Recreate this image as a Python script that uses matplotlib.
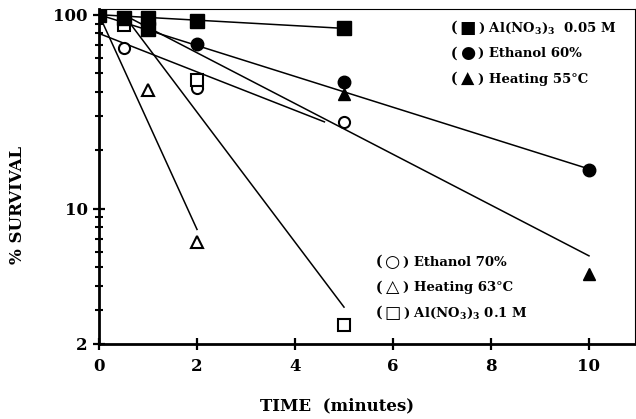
import matplotlib
matplotlib.use("Agg")
import matplotlib.pyplot as plt
from matplotlib.ticker import FixedLocator, FixedFormatter, NullFormatter

plt.rcParams['font.family'] = ['DejaVu Serif', 'DejaVu Sans']
plt.rcParams['font.weight'] = 'bold'
plt.rcParams['mathtext.fontset'] = 'dejavuserif'
plt.rcParams['mathtext.default'] = 'bf'

# ---- data (time in minutes, % survival) ----
al005_t = [0, 0.5, 1, 1, 2, 5]
al005_s = [100, 96, 96, 84, 93, 85]
eth60_t = [0, 1, 2, 5, 10]
eth60_s = [100, 88, 71, 45, 15.8]
heat55_t = [0, 1, 5, 10]
heat55_s = [100, 85, 39, 4.6]
eth70_t = [0.5, 2, 5]
eth70_s = [67, 42, 28]
heat63_t = [0, 1, 2]
heat63_s = [100, 41, 6.7]
al01_t = [0.5, 2, 5]
al01_s = [89, 46, 2.5]

# fitted lines (endpoints)
fit_al005_t, fit_al005_s = [0, 5], [100, 85]
fit_eth60_t, fit_eth60_s = [0, 10], [100, 16]
fit_heat55_t, fit_heat55_s = [0.5, 10], [100, 5.7]
fit_eth70_t, fit_eth70_s = [0, 4.6], [80, 28]
fit_heat63_t, fit_heat63_s = [0, 2], [100, 7.8]
fit_al01_t, fit_al01_s = [0.5, 5], [100, 3.1]

x_ticks = [0, 2, 4, 6, 8, 10]
y_major = [2, 10, 100]
y_major_labels = ['2', '10', '100']
y_minor = [3, 4, 5, 6, 7, 8, 9, 20, 30, 40, 50, 60, 70, 80, 90]

legend_upper_sym = ['■', '●', '▲']
legend_upper_lab = [r'Al(NO$_3$)$_3$  0.05 M', 'Ethanol 60%', 'Heating 55°C']
legend_lower_sym = ['○', '△', '□']
legend_lower_lab = ['Ethanol 70%', 'Heating 63°C', r'Al(NO$_3$)$_3$ 0.1 M']

W, H = 636, 419
fig = plt.figure(figsize=(6.36, 4.19), dpi=100)
ax = fig.add_axes([0.1557, 0.179, 0.8428, 0.7995])

lw = 1.1
for tx, sy in [(fit_al005_t, fit_al005_s), (fit_eth60_t, fit_eth60_s),
               (fit_heat55_t, fit_heat55_s), (fit_eth70_t, fit_eth70_s),
               (fit_heat63_t, fit_heat63_s), (fit_al01_t, fit_al01_s)]:
    ax.plot(tx, sy, color='black', lw=lw, zorder=2)

ax.plot(eth70_t, eth70_s, 'o', ms=8, mfc='white', mec='black', mew=1.5, ls='none', zorder=3)
ax.plot(heat63_t[1:], heat63_s[1:], '^', ms=8, mfc='white', mec='black', mew=1.5, ls='none', zorder=3)
ax.plot(al01_t, al01_s, 's', ms=8, mfc='white', mec='black', mew=1.5, ls='none', zorder=3)
ax.plot(heat55_t, heat55_s, '^', ms=8.5, color='black', ls='none', zorder=4)
ax.plot(eth60_t, eth60_s, 'o', ms=9, color='black', ls='none', zorder=4)
ax.plot(al005_t, al005_s, 's', ms=9.5, color='black', ls='none', zorder=5)

ax.set_yscale('log')
ax.set_xlim(0, 10.94)
ax.set_ylim(2, 107)
ax.xaxis.set_major_locator(FixedLocator(x_ticks))
ax.yaxis.set_major_locator(FixedLocator(y_major))
ax.yaxis.set_major_formatter(FixedFormatter(y_major_labels))
ax.yaxis.set_minor_locator(FixedLocator(y_minor))
ax.yaxis.set_minor_formatter(NullFormatter())
ax.xaxis.set_minor_locator(FixedLocator([]))

ax.tick_params(axis='both', which='major', direction='inout', length=8, width=1.6,
               labelsize=12, pad=4)
ax.tick_params(axis='y', which='minor', direction='inout', length=6, width=1.5)
ax.tick_params(axis='x', which='major', pad=6)
for lab in ax.get_xticklabels() + ax.get_yticklabels():
    lab.set_fontweight('bold')

ax.spines['left'].set_linewidth(2.0)
ax.spines['bottom'].set_linewidth(2.0)
ax.spines['top'].set_linewidth(0.8)
ax.spines['right'].set_linewidth(0.8)

fig.text(337 / W, 1 - 406 / H, 'TIME  (minutes)', ha='center', va='center',
         fontsize=12, fontweight='bold')
fig.text(18 / W, 1 - 205 / H, '% SURVIVAL', ha='center', va='center',
         rotation=90, fontsize=12, fontweight='bold')


def legend_entry(x0, y, sym, lab):
    fig.text(x0 / W, 1 - y / H, '(', ha='left', va='center', fontsize=10, fontweight='bold')
    fig.text((x0 + 17) / W, 1 - y / H, sym, ha='center', va='center', fontsize=12.5,
             family=['DejaVu Sans'])
    fig.text((x0 + 27) / W, 1 - y / H, ') ' + lab, ha='left', va='center',
             fontsize=9.5, fontweight='bold')


for i in range(3):
    legend_entry(451, 28 + 25.5 * i, legend_upper_sym[i], legend_upper_lab[i])
    legend_entry(376, 262 + 25.5 * i, legend_lower_sym[i], legend_lower_lab[i])

fig.savefig('out.png', dpi=100)
